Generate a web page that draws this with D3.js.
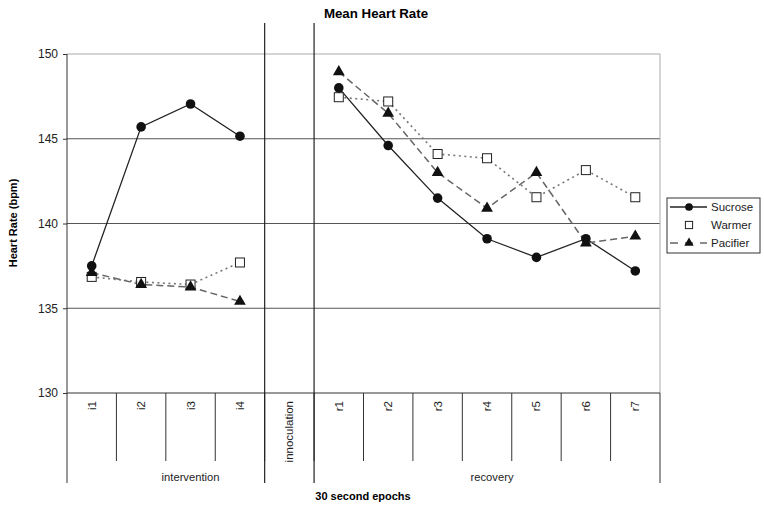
<!DOCTYPE html>
<html>
<head>
<meta charset="utf-8">
<script src="https://cdn.jsdelivr.net/npm/d3@7"></script>
<style>
  body { margin: 0; background: #fff; }
  svg { font-family: "Liberation Sans", Arial, sans-serif; }
</style>
</head>
<body>
<svg id="chart" width="764" height="510"></svg>
<script>
// Mean heart rate by 30 second epoch, three groups

const categories = ['i1', 'i2', 'i3', 'i4', 'innoculation', 'r1', 'r2', 'r3', 'r4', 'r5', 'r6', 'r7'];
// label span: intervention label is centred over i1..innoculation in the original
const groups = [
  { name: 'intervention', from: 'i1', to: 'innoculation' },
  { name: 'recovery', from: 'r1', to: 'r7' }
];
const yTicks = [130, 135, 140, 145, 150];

// null = no measurement (innoculation)
const sucrose  = [137.5, 145.7, 147.05, 145.15, null, 148.0, 144.6, 141.5, 139.1, 138.0, 139.1, 137.2];
const warmer   = [136.85, 136.55, 136.4, 137.7, null, 147.45, 147.2, 144.1, 143.85, 141.55, 143.15, 141.55];
const pacifier = [137.1, 136.4, 136.25, 135.4, null, 148.95, 146.5, 143.0, 140.9, 143.0, 138.85, 139.25];

const series = [
  { name: 'Sucrose', values: sucrose, stroke: '#222', dash: null, marker: 'circle', width: 1.3 },
  { name: 'Warmer', values: warmer, stroke: '#777', dash: '2,3.5', marker: 'square', width: 1.6 },
  { name: 'Pacifier', values: pacifier, stroke: '#666', dash: '7,4', marker: 'triangle', width: 1.5 }
];

const m = { left: 67, right: 660, top: 54, bottom: 393 };

const svg = d3.select('#chart');

const x = d3.scaleBand().domain(categories).range([m.left, m.right]).padding(0);
const y = d3.scaleLinear().domain([130, 150]).range([m.bottom, m.top]);

// horizontal grid lines
svg.append('g')
  .selectAll('line')
  .data(yTicks.filter(d => d > 130))
  .join('line')
    .attr('x1', m.left).attr('x2', m.right)
    .attr('y1', d => y(d)).attr('y2', d => y(d))
    .attr('stroke', d => d === 150 ? '#aaa' : '#555')
    .attr('stroke-width', 1);

// right border
svg.append('line')
  .attr('x1', m.right).attr('x2', m.right)
  .attr('y1', m.top).attr('y2', m.bottom)
  .attr('stroke', '#aaa');

// y axis
const yAxis = svg.append('g')
  .attr('transform', `translate(${m.left},0)`)
  .call(d3.axisLeft(y).tickValues(yTicks).tickSize(4).tickPadding(5));
yAxis.select('.domain').remove();
yAxis.selectAll('.tick line').attr('stroke', '#333');
yAxis.selectAll('.tick text')
  .attr('fill', '#222')
  .style('font-size', '12px')
  .style('font-family', '"Liberation Sans", Arial, sans-serif');

// left axis line (extends down through category area)
svg.append('line')
  .attr('x1', m.left).attr('x2', m.left)
  .attr('y1', m.top).attr('y2', 483)
  .attr('stroke', '#333');

// bottom axis line
svg.append('line')
  .attr('x1', m.left).attr('x2', m.right)
  .attr('y1', m.bottom).attr('y2', m.bottom)
  .attr('stroke', '#333');

// category separators
svg.append('g')
  .selectAll('line')
  .data(categories.slice(1))
  .join('line')
    .attr('x1', d => x(d)).attr('x2', d => x(d))
    .attr('y1', m.bottom).attr('y2', 461)
    .attr('stroke', '#333');

// innoculation borders run full height
const innoc = 'innoculation';
svg.append('g')
  .selectAll('line')
  .data([x(innoc), x(innoc) + x.bandwidth()])
  .join('line')
    .attr('x1', d => d).attr('x2', d => d)
    .attr('y1', 23).attr('y2', 483)
    .attr('stroke', '#222')
    .attr('stroke-width', 1.2);

svg.append('line')
  .attr('x1', m.right).attr('x2', m.right)
  .attr('y1', m.bottom).attr('y2', 483)
  .attr('stroke', '#333');

// category labels, rotated
svg.append('g')
  .selectAll('text')
  .data(categories)
  .join('text')
    .attr('transform', d => `translate(${x(d) + x.bandwidth() / 2 + 4},401) rotate(-90)`)
    .attr('text-anchor', 'end')
    .attr('fill', '#222')
    .style('font-size', '11.5px')
    .text(d => d);

// group labels
svg.append('g')
  .selectAll('text')
  .data(groups)
  .join('text')
    .attr('x', g => (x(g.from) + x(g.to) + x.bandwidth()) / 2 + (g.name === 'recovery' ? 5 : 0))
    .attr('y', 481)
    .attr('text-anchor', 'middle')
    .attr('fill', '#222')
    .style('font-size', '11.2px')
    .text(g => g.name);

// lines
const line = d3.line()
  .defined(d => d.v != null)
  .x(d => x(d.c) + x.bandwidth() / 2)
  .y(d => y(d.v));

function points(s) {
  return categories.map((c, i) => ({ c, v: s.values[i] }));
}

svg.append('g')
  .selectAll('path')
  .data(series)
  .join('path')
    .attr('fill', 'none')
    .attr('stroke', s => s.stroke)
    .attr('stroke-width', s => s.width)
    .attr('stroke-dasharray', s => s.dash)
    .attr('d', s => line(points(s)));

// markers
function drawMarker(sel, type, scale) {
  if (type === 'circle') {
    sel.append('circle').attr('r', 4.8 * scale).attr('fill', '#111');
  } else if (type === 'square') {
    const h = 4.5 * scale;
    sel.append('rect').attr('x', -h).attr('y', -h).attr('width', 2 * h).attr('height', 2 * h)
      .attr('fill', '#fff').attr('stroke', '#222').attr('stroke-width', 1);
  } else {
    sel.append('path').attr('d', d3.symbol(d3.symbolTriangle, 60 * scale * scale)()).attr('fill', '#111');
  }
}

// warmer first so the filled markers sit on top
[series[1], series[2], series[0]].forEach(s => {
  const g = svg.append('g')
    .selectAll('g')
    .data(points(s).filter(d => d.v != null))
    .join('g')
      .attr('transform', d => `translate(${x(d.c) + x.bandwidth() / 2},${y(d.v)})`);
  drawMarker(g, s.marker, 1);
});

// title and axis titles
svg.append('text')
  .attr('x', 376).attr('y', 18)
  .attr('text-anchor', 'middle')
  .style('font-size', '13.3px').style('font-weight', 'bold')
  .text('Mean Heart Rate');

svg.append('text')
  .attr('transform', 'translate(17,223) rotate(-90)')
  .attr('text-anchor', 'middle')
  .style('font-size', '11px').style('font-weight', 'bold')
  .text('Heart Rate (bpm)');

svg.append('text')
  .attr('x', 363).attr('y', 500)
  .attr('text-anchor', 'middle')
  .style('font-size', '11px').style('font-weight', 'bold')
  .text('30 second epochs');

// legend
const legend = svg.append('g').attr('transform', 'translate(667,198)');
legend.append('rect')
  .attr('width', 93).attr('height', 55)
  .attr('fill', '#fff').attr('stroke', '#333');

const item = legend.selectAll('g.item')
  .data(series)
  .join('g')
    .attr('class', 'item')
    .attr('transform', (s, i) => `translate(0,${9 + i * 18})`);

item.append('line')
  .attr('x1', 3).attr('x2', 40)
  .attr('stroke', s => s.stroke)
  .attr('stroke-width', s => s.width)
  .attr('stroke-dasharray', s => s.name === 'Pacifier' ? '8,7' : s.dash)
  .attr('opacity', s => s.name === 'Warmer' ? 0 : 1);

item.each(function(s) {
  const g = d3.select(this).append('g').attr('transform', 'translate(22,0)');
  drawMarker(g, s.marker, 0.8);
});

item.append('text')
  .attr('x', 44).attr('y', 4)
  .style('font-size', '11.5px')
  .attr('fill', '#222')
  .text(s => s.name);
</script>
</body>
</html>
